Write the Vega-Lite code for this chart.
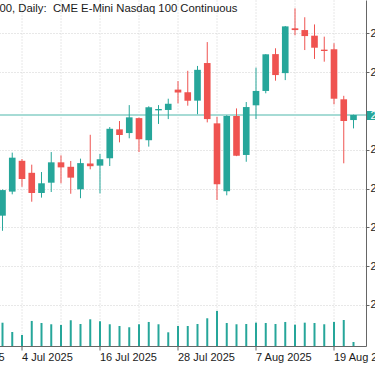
{
  "$schema": "https://vega.github.io/schema/vega-lite/v6.json",
  "width": 434.5,
  "height": 346,
  "autosize": {"type": "none"},
  "padding": {"left": -68.5, "top": 0, "right": 10, "bottom": 20},
  "background": "#ffffff",
  "title": {
    "text": "NAS100, Daily:\u00a0 CME E-Mini Nasdaq 100 Continuous",
    "anchor": "start",
    "orient": "top",
    "frame": "group",
    "offset": -12,
    "baseline": "alphabetic",
    "dx": 38.5,
    "dy": 11,
    "fontSize": 11.3,
    "font": "Liberation Sans",
    "fontWeight": "normal",
    "color": "#1a1a1a"
  },
  "data": {
    "values": [
      {"date": "2025-07-02", "open": 22860, "high": 22995, "low": 22782, "close": 22992, "volume": 505000},
      {"date": "2025-07-03", "open": 22984, "high": 23185, "low": 22970, "close": 23159, "volume": 304000},
      {"date": "2025-07-04", "open": 23143, "high": 23152, "low": 23009, "close": 23049, "volume": 239000},
      {"date": "2025-07-07", "open": 23081, "high": 23123, "low": 22932, "close": 22977, "volume": 543000},
      {"date": "2025-07-08", "open": 22977, "high": 23085, "low": 22953, "close": 23027, "volume": 499000},
      {"date": "2025-07-09", "open": 23030, "high": 23188, "low": 22982, "close": 23135, "volume": 471000},
      {"date": "2025-07-10", "open": 23135, "high": 23171, "low": 23027, "close": 23109, "volume": 456000},
      {"date": "2025-07-11", "open": 23112, "high": 23142, "low": 22973, "close": 23056, "volume": 558000},
      {"date": "2025-07-14", "open": 22996, "high": 23154, "low": 22950, "close": 23131, "volume": 477000},
      {"date": "2025-07-15", "open": 23129, "high": 23277, "low": 23099, "close": 23115, "volume": 579000},
      {"date": "2025-07-16", "open": 23118, "high": 23178, "low": 22975, "close": 23151, "volume": 536000},
      {"date": "2025-07-17", "open": 23156, "high": 23317, "low": 23116, "close": 23308, "volume": 471000},
      {"date": "2025-07-18", "open": 23305, "high": 23348, "low": 23238, "close": 23276, "volume": 434000},
      {"date": "2025-07-21", "open": 23286, "high": 23430, "low": 23259, "close": 23367, "volume": 406000},
      {"date": "2025-07-22", "open": 23363, "high": 23366, "low": 23188, "close": 23254, "volume": 471000},
      {"date": "2025-07-23", "open": 23249, "high": 23424, "low": 23216, "close": 23419, "volume": 521000},
      {"date": "2025-07-24", "open": 23403, "high": 23430, "low": 23333, "close": 23410, "volume": 471000},
      {"date": "2025-07-25", "open": 23405, "high": 23463, "low": 23358, "close": 23437, "volume": 297000},
      {"date": "2025-07-28", "open": 23510, "high": 23554, "low": 23439, "close": 23495, "volume": 434000},
      {"date": "2025-07-29", "open": 23496, "high": 23607, "low": 23427, "close": 23453, "volume": 434000},
      {"date": "2025-07-30", "open": 23453, "high": 23632, "low": 23383, "close": 23612, "volume": 477000},
      {"date": "2025-07-31", "open": 23647, "high": 23755, "low": 23341, "close": 23358, "volume": 601000},
      {"date": "2025-08-01", "open": 23336, "high": 23370, "low": 22941, "close": 23022, "volume": 760000},
      {"date": "2025-08-04", "open": 22986, "high": 23378, "low": 22965, "close": 23374, "volume": 499000},
      {"date": "2025-08-05", "open": 23374, "high": 23413, "low": 23167, "close": 23169, "volume": 471000},
      {"date": "2025-08-06", "open": 23173, "high": 23446, "low": 23138, "close": 23420, "volume": 477000},
      {"date": "2025-08-07", "open": 23429, "high": 23623, "low": 23358, "close": 23503, "volume": 506000},
      {"date": "2025-08-08", "open": 23503, "high": 23693, "low": 23491, "close": 23692, "volume": 499000},
      {"date": "2025-08-11", "open": 23693, "high": 23723, "low": 23556, "close": 23585, "volume": 477000},
      {"date": "2025-08-12", "open": 23595, "high": 23838, "low": 23559, "close": 23836, "volume": 521000},
      {"date": "2025-08-13", "open": 23826, "high": 23929, "low": 23790, "close": 23817, "volume": 462000},
      {"date": "2025-08-14", "open": 23817, "high": 23883, "low": 23714, "close": 23786, "volume": 506000},
      {"date": "2025-08-15", "open": 23788, "high": 23846, "low": 23668, "close": 23726, "volume": 499000},
      {"date": "2025-08-18", "open": 23716, "high": 23783, "low": 23654, "close": 23709, "volume": 471000},
      {"date": "2025-08-19", "open": 23718, "high": 23749, "low": 23434, "close": 23463, "volume": 521000},
      {"date": "2025-08-20", "open": 23460, "high": 23478, "low": 23130, "close": 23348, "volume": 564000},
      {"date": "2025-08-21", "open": 23353, "high": 23381, "low": 23310, "close": 23379, "volume": 87000}
    ]
  },
  "layer": [
    {
      "layer": [
        {
          "transform": [{"filter": "datum.date == '2025-08-21'"}],
          "mark": {"type": "rule", "color": "#a6dbd5", "strokeWidth": 2},
          "encoding": {
            "y": {
              "field": "close",
              "type": "quantitative",
              "scale": {"domain": [22188, 23972], "nice": false, "zero": false},
              "axis": {
                "orient": "right",
                "title": null,
                "values": [22400, 22600, 22800, 23000, 23200, 23379, 23600, 23800],
                "format": ".2f",
                "grid": true,
                "gridDash": [1, 2],
                "gridColor": "#d0d0d0",
                "gridOpacity": {"condition": {"test": "datum.value == 23379", "value": 0}, "value": 1},
                "domainColor": "#666666",
                "tickColor": {"condition": {"test": "datum.value == 23379", "value": "#26a69a"}, "value": "#666666"},
                "tickSize": {"condition": {"test": "datum.value == 23379", "value": 14}, "value": 3},
                "tickWidth": {"condition": {"test": "datum.value == 23379", "value": 9}, "value": 1},
                "labelColor": {"condition": {"test": "datum.value == 23379", "value": "#ffffff"}, "value": "#1a1a1a"},
                "labelPadding": {"condition": {"test": "datum.value == 23379", "value": -10}, "value": 1},
                "labelFont": "Liberation Sans",
                "labelFontSize": 11,
                "labelOverlap": false,
                "labelBound": false,
                "labelFlush": false
              }
            }
          }
        },
        {
          "mark": {"type": "rule", "strokeWidth": 1},
          "encoding": {
            "x": {
              "field": "date",
              "type": "ordinal",
              "scale": {
                "type": "band",
                "paddingInner": 0,
                "paddingOuter": 0.782,
                "domain": ["2025-06-24","2025-06-25","2025-06-26","2025-06-27","2025-06-30","2025-07-01","2025-07-02","2025-07-03","2025-07-04","2025-07-07","2025-07-08","2025-07-09","2025-07-10","2025-07-11","2025-07-14","2025-07-15","2025-07-16","2025-07-17","2025-07-18","2025-07-21","2025-07-22","2025-07-23","2025-07-24","2025-07-25","2025-07-28","2025-07-29","2025-07-30","2025-07-31","2025-08-01","2025-08-04","2025-08-05","2025-08-06","2025-08-07","2025-08-08","2025-08-11","2025-08-12","2025-08-13","2025-08-14","2025-08-15","2025-08-18","2025-08-19","2025-08-20","2025-08-21"]
              },
              "axis": {
                "title": null,
                "values": ["2025-06-24","2025-06-30","2025-07-04","2025-07-10","2025-07-16","2025-07-22","2025-07-28","2025-08-01","2025-08-07","2025-08-13","2025-08-19"],
                "labelExpr": "indexof(['2025-06-24','2025-07-04','2025-07-16','2025-07-28','2025-08-07','2025-08-19'], datum.value) >= 0 ? utcFormat(toDate(datum.value), '%-d %b %Y') : ''",
                "labelAngle": 0,
                "labelAlign": "left",
                "labelBaseline": "top",
                "labelPadding": 1,
                "labelFont": "Liberation Sans",
                "labelFontSize": 11,
                "labelColor": "#1a1a1a",
                "labelOverlap": false,
                "labelBound": false,
                "labelFlush": false,
                "tickSize": 4,
                "tickColor": "#666666",
                "tickOpacity": {"condition": {"test": "indexof(['2025-06-24','2025-07-04','2025-07-16','2025-07-28','2025-08-07','2025-08-19'], datum.value) < 0", "value": 0}, "value": 1},
                "domainColor": "#666666",
                "grid": true,
                "gridDash": [1, 2],
                "gridColor": "#d0d0d0"
              }
            },
            "y": {"field": "low", "type": "quantitative", "scale": {"domain": [22188, 23972], "nice": false, "zero": false}},
            "y2": {"field": "high"},
            "color": {"condition": {"test": "datum.close >= datum.open", "value": "#26a69a"}, "value": "#ef5350"}
          }
        },
        {
          "mark": {"type": "bar", "width": {"band": 0.68}},
          "encoding": {
            "x": {"field": "date", "type": "ordinal"},
            "y": {"field": "open", "type": "quantitative"},
            "y2": {"field": "close"},
            "color": {"condition": {"test": "datum.close >= datum.open", "value": "#26a69a"}, "value": "#ef5350"}
          }
        }
      ]
    },
    {
      "mark": {"type": "bar", "width": 2, "color": "#26a69a"},
      "encoding": {
        "x": {"field": "date", "type": "ordinal"},
        "y": {"field": "volume", "type": "quantitative", "scale": {"domain": [0, 7500000], "nice": false}, "axis": null}
      }
    }
  ],
  "resolve": {"scale": {"y": "independent"}},
  "config": {
    "view": {"stroke": null},
    "font": "Liberation Sans"
  }
}
